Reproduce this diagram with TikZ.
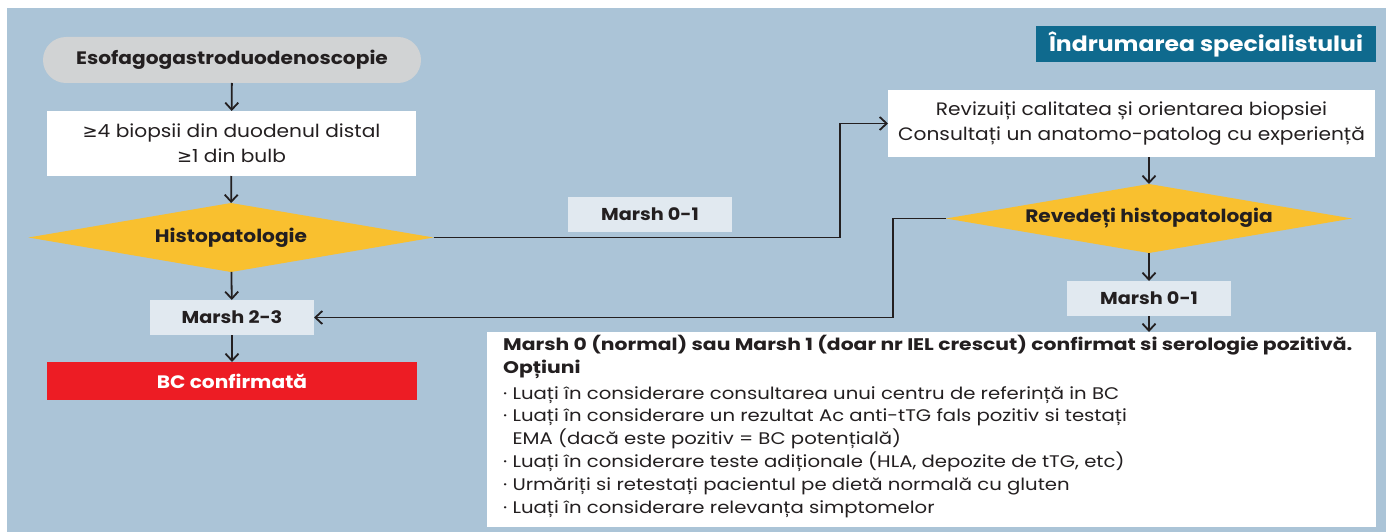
\documentclass[tikz,border=0pt]{standalone}
\usepackage{fontspec}
\setmainfont{Poppins}[FakeStretch=1.12]
\newfontfamily\symf{DejaVu Sans}
\newfontfamily\optr{Poppins}[FakeStretch=1.17]
\newfontfamily\optb{Poppins}[FakeStretch=1.21]
\usetikzlibrary{shapes.geometric,arrows.meta}
\definecolor{bgblue}{RGB}{171,196,215}
\definecolor{pillgray}{RGB}{209,211,212}
\definecolor{yel}{RGB}{249,192,47}
\definecolor{lightb}{RGB}{225,233,240}
\definecolor{redc}{RGB}{237,28,36}
\definecolor{hdrc}{RGB}{15,106,142}
\definecolor{txt}{RGB}{35,31,32}
\newcommand\fsz[2]{\fontsize{#1pt}{#2pt}\selectfont}
\tikzset{
  base/.style={inner sep=0pt, outer sep=0pt, text=txt, align=center, font=\fsz{18}{22}\bfseries},
  pill/.style={base, fill=pillgray, rounded corners=23pt, minimum width=378pt, minimum height=46pt},
  wbox/.style={base, fill=white, font=\fsz{18}{25}},
  dia/.style={base, diamond, fill=yel, shape aspect=5.8},
  lbox/.style={base, fill=lightb, minimum width=164pt, minimum height=35pt, font=\fsz{17.2}{22}\bfseries},
  rbox/.style={base, fill=redc, text=white, minimum width=370pt, minimum height=38pt},
  hdr/.style={base, fill=hdrc, text=white, font=\fsz{21}{25}\bfseries, minimum width=340pt, minimum height=36pt},
  arr/.style={draw=txt, line width=1.8pt, -{Straight Barb[length=7pt,width=13pt]}},
}
\begin{document}
\begin{tikzpicture}[x=1pt,y=-1pt]
\useasboundingbox (0,0) rectangle (1386,532);
\fill[bgblue] (7,8) rectangle (1386,532);

% left column
\node[pill] (egd) at (232,60) {Esofagogastroduodenoscopie};
\node[wbox, minimum width=369pt, minimum height=65pt] (bio) at (231.5,143.5)
  {{\symf ≥}4 biopsii din duodenul distal\\{\symf ≥}1 din bulb};
\node[dia, minimum width=405pt, minimum height=69pt] (histo) at (231,237.5) {Histopatologie};
\node[lbox] (m23) at (232,317.5) {Marsh 2-3};
\node[rbox] (bc) at (232,381) {BC confirmată};

% middle label
\node[lbox] (m01a) at (650,214.5) {Marsh 0-1};

% right column
\node[hdr] (hdr) at (1206,44) {Îndrumarea specialistului};
\node[wbox, minimum width=487pt, minimum height=67pt] (rev) at (1131.5,123.5)
  {Revizuiți calitatea și orientarea biopsiei\\Consultați un anatomo-patolog cu experiență};
\node[dia, minimum width=406pt, minimum height=69pt] (revd) at (1149,218.5) {Revedeți histopatologia};
\node[lbox] (m01b) at (1149,298.5) {Marsh 0-1};
\node[base, fill=white, minimum width=889pt, minimum height=195pt] (opt) at (931.5,429.5) {};
\node[anchor=north west, inner sep=0pt, align=left, text=txt, font=\optr\fsz{16.8}{22.8}] (opttext) at (503,335) {%
{\optb\bfseries Marsh 0 (normal) sau Marsh 1 (doar nr IEL crescut) confirmat si serologie pozitivă.}\\
{\optb\bfseries Opțiuni}\\[3pt]
· Luați în considerare consultarea unui centru de referință in BC\\
· Luați în considerare un rezultat Ac anti-tTG fals pozitiv si testați\\
\hphantom{· }EMA (dacă este pozitiv = BC potențială)\\
· Luați în considerare teste adiționale (HLA, depozite de tTG, etc)\\
· Urmăriți si retestați pacientul pe dietă normală cu gluten\\
· Luați în considerare relevanța simptomelor};

% junction coordinates
\coordinate (j1) at (840,0);
\coordinate (j2) at (893,0);

% connectors
\draw[arr] (egd) -- (bio);
\draw[arr] (bio) -- (histo);
\draw[arr] (histo) -- (m23);
\draw[arr] (m23) -- (bc);
\draw[arr] (histo.east) -- (histo.east -| j1) |- (rev.west);
\draw[arr] (rev.south -| revd.north) -- (revd.north);
\draw[arr] (revd.west) -- (revd.west -| j2) |- (m23.east);
\draw[arr] (revd) -- (m01b);
\draw[arr] (m01b.south) -- (m01b.south |- opt.north);
\end{tikzpicture}
\end{document}
